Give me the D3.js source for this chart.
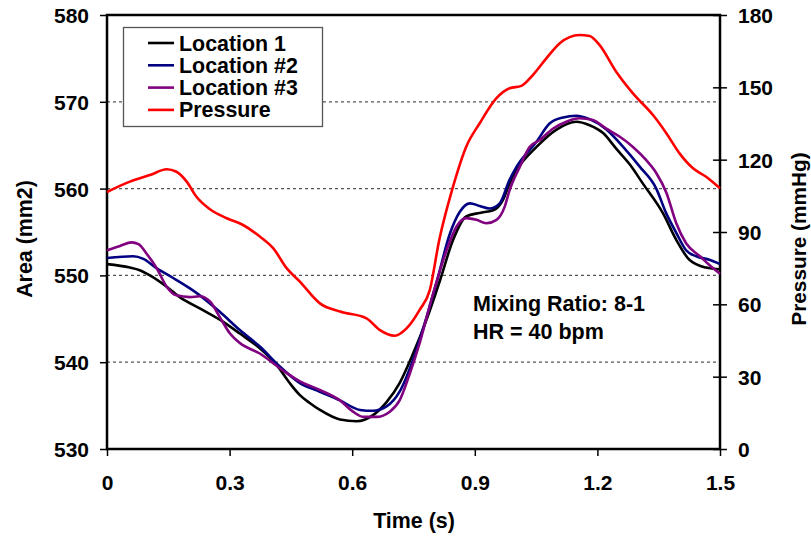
<!DOCTYPE html>
<html>
<head>
<meta charset="utf-8">
<script src="https://cdn.jsdelivr.net/npm/d3@7"></script>
<style>
  body { margin: 0; background: #fff; }
  svg text { font-family: "Liberation Sans", Arial, sans-serif; font-weight: bold; fill: #000; }
</style>
</head>
<body>
<svg id="chart" width="811" height="539"></svg>
<script>
// series: [time (s), value]
const loc1Time = [0, 0.056, 0.08, 0.105, 0.146, 0.178, 0.227, 0.276, 0.325, 0.374, 0.415, 0.447, 0.472, 0.496, 0.521, 0.57, 0.611, 0.651, 0.684, 0.716, 0.749, 0.782, 0.814, 0.847, 0.879, 0.912, 0.945, 0.969, 0.985, 1.002, 1.051, 1.1, 1.148, 1.181, 1.214, 1.246, 1.279, 1.311, 1.36, 1.393, 1.425, 1.466, 1.5]
const loc1Area = [551.3, 550.9, 550.6, 550.0, 548.7, 547.5, 546.2, 544.9, 543.3, 541.6, 539.7, 537.6, 536.2, 535.3, 534.5, 533.4, 533.2, 533.9, 535.4, 537.6, 541.0, 544.9, 549.3, 554.1, 556.8, 557.2, 557.5, 558.7, 560.6, 562.1, 564.8, 566.8, 567.7, 567.3, 566.4, 564.6, 562.8, 560.6, 557.2, 554.1, 551.8, 550.9, 550.7]

const loc2Time = [0, 0.064, 0.089, 0.122, 0.162, 0.203, 0.227, 0.276, 0.325, 0.374, 0.423, 0.472, 0.521, 0.57, 0.619, 0.651, 0.684, 0.716, 0.749, 0.782, 0.806, 0.839, 0.863, 0.888, 0.912, 0.936, 0.961, 0.985, 1.002, 1.051, 1.083, 1.116, 1.148, 1.181, 1.222, 1.263, 1.304, 1.344, 1.368, 1.393, 1.417, 1.442, 1.474, 1.5]
const loc2Area = [552.0, 552.2, 551.9, 550.8, 549.7, 548.5, 547.7, 545.8, 543.7, 541.8, 539.5, 537.6, 536.6, 535.6, 534.5, 534.4, 534.9, 536.6, 540.3, 545.2, 549.1, 554.8, 557.3, 558.3, 558.0, 557.7, 558.3, 561.0, 562.5, 565.4, 567.5, 568.2, 568.4, 568.0, 566.8, 564.8, 562.5, 560.0, 557.2, 554.9, 552.9, 552.2, 551.8, 551.3]

const loc3Time = [0, 0.032, 0.06, 0.077, 0.097, 0.122, 0.146, 0.17, 0.203, 0.227, 0.252, 0.276, 0.301, 0.325, 0.374, 0.423, 0.472, 0.521, 0.57, 0.602, 0.627, 0.659, 0.692, 0.716, 0.741, 0.765, 0.798, 0.831, 0.855, 0.879, 0.904, 0.928, 0.953, 0.973, 0.985, 1.01, 1.034, 1.059, 1.091, 1.124, 1.156, 1.189, 1.222, 1.254, 1.287, 1.319, 1.344, 1.369, 1.393, 1.417, 1.451, 1.474, 1.5]
const loc3Area = [552.9, 553.4, 553.8, 553.6, 552.5, 550.8, 548.7, 547.7, 547.5, 547.6, 547.0, 545.2, 543.3, 542.2, 541.0, 539.3, 537.8, 536.8, 535.6, 534.3, 533.7, 533.7, 534.3, 535.6, 538.7, 542.2, 547.9, 552.9, 555.6, 556.6, 556.4, 556.0, 556.4, 557.9, 559.8, 562.5, 564.8, 565.6, 566.9, 567.7, 568.1, 567.9, 566.9, 566.0, 564.8, 563.3, 561.8, 559.5, 556.0, 553.7, 552.2, 551.2, 550.2]

const pressTime = [0, 0.056, 0.105, 0.146, 0.17, 0.195, 0.219, 0.252, 0.293, 0.333, 0.374, 0.407, 0.44, 0.472, 0.521, 0.57, 0.635, 0.667, 0.704, 0.733, 0.765, 0.79, 0.813, 0.845, 0.879, 0.912, 0.953, 0.985, 1.014, 1.042, 1.075, 1.108, 1.156, 1.181, 1.205, 1.246, 1.287, 1.336, 1.369, 1.401, 1.434, 1.466, 1.5]
const pressValue = [106.6, 110.9, 113.6, 116.0, 115.0, 110.9, 104.6, 99.4, 95.7, 92.9, 88.1, 83.2, 74.9, 69.4, 60.4, 57.0, 54.2, 49.4, 47.0, 50.0, 57.7, 66.0, 86.7, 107.8, 125.4, 135.1, 145.5, 149.6, 150.6, 155.1, 162.0, 168.3, 171.7, 171.3, 167.6, 156.5, 147.5, 138.5, 130.9, 122.6, 116.4, 112.9, 108.1]

const xTicks = [0, 0.3, 0.6, 0.9, 1.2, 1.5]
const areaTicks = [530, 540, 550, 560, 570, 580]
const pressTicks = [0, 30, 60, 90, 120, 150, 180]
const gridLines = [540, 550, 560, 570]

const seriesNames = ["Location 1", "Location #2", "Location #3", "Pressure"]
const seriesColors = ["#000000", "#000080", "#800080", "#ff0000"]

const svg = d3.select("#chart")

const plotLeft = 107, plotRight = 720, plotTop = 15, plotBottom = 449

const x = d3.scaleLinear().domain([0, 1.5]).range([plotLeft, plotRight])
const yArea = d3.scaleLinear().domain([530, 580]).range([plotBottom, plotTop])
const yPress = d3.scaleLinear().domain([0, 180]).range([plotBottom, plotTop])

// dashed grid (area scale)
svg.append("g")
  .selectAll("line")
  .data(gridLines)
  .enter()
  .append("line")
  .attr("x1", plotLeft)
  .attr("x2", plotRight)
  .attr("y1", (d) => yArea(d))
  .attr("y2", (d) => yArea(d))
  .style("stroke", "#555")
  .style("stroke-width", 1.2)
  .style("stroke-dasharray", "3,3")

// left axis
const leftAxis = svg.append("g")
  .attr("transform", `translate(${plotLeft},0)`)
  .call(d3.axisLeft(yArea).tickValues(areaTicks).tickSize(7).tickPadding(11))
leftAxis.select(".domain").remove()
leftAxis.selectAll("line").style("stroke", "#000").style("stroke-width", 1.5)
leftAxis.selectAll("text").style("font-size", "21px").attr("dy", "0.36em")

// right axis, ticks cross the line
const rightAxis = svg.append("g")
  .attr("transform", `translate(${plotRight},0)`)
  .call(d3.axisRight(yPress).tickValues(pressTicks).tickSize(7).tickPadding(11))
rightAxis.select(".domain").remove()
rightAxis.selectAll("line").attr("x1", -7).style("stroke", "#000").style("stroke-width", 1.5)
rightAxis.selectAll("text").style("font-size", "21px").attr("dy", "0.36em")

// bottom axis
const bottomAxis = svg.append("g")
  .attr("transform", `translate(0,${plotBottom})`)
  .call(d3.axisBottom(x).tickValues(xTicks).tickFormat(d3.format("")).tickSize(7).tickPadding(19))
bottomAxis.select(".domain").remove()
bottomAxis.selectAll("line").style("stroke", "#000").style("stroke-width", 1.5)
bottomAxis.selectAll("text").style("font-size", "21px")

// plot frame
svg.append("rect")
  .attr("x", plotLeft)
  .attr("y", plotTop)
  .attr("width", plotRight - plotLeft)
  .attr("height", plotBottom - plotTop)
  .style("fill", "none")
  .style("stroke", "#000")
  .style("stroke-width", 2.5)

// lines
const areaLine = d3.line()
  .x((d) => x(d[0]))
  .y((d) => yArea(d[1]))
  .curve(d3.curveMonotoneX)
const pressLine = d3.line()
  .x((d) => x(d[0]))
  .y((d) => yPress(d[1]))
  .curve(d3.curveMonotoneX)

const series = [
  { pts: d3.zip(loc1Time, loc1Area), line: areaLine, color: seriesColors[0] },
  { pts: d3.zip(loc2Time, loc2Area), line: areaLine, color: seriesColors[1] },
  { pts: d3.zip(loc3Time, loc3Area), line: areaLine, color: seriesColors[2] },
  { pts: d3.zip(pressTime, pressValue), line: pressLine, color: seriesColors[3] }
]

svg.append("g")
  .selectAll("path")
  .data(series)
  .enter()
  .append("path")
  .attr("d", (d) => d.line(d.pts))
  .style("fill", "none")
  .style("stroke", (d) => d.color)
  .style("stroke-width", 2.6)
  .style("stroke-linejoin", "round")

// legend
const legend = svg.append("g")
legend.append("rect")
  .attr("x", 123.5)
  .attr("y", 27.5)
  .attr("width", 199)
  .attr("height", 99)
  .style("fill", "#fff")
  .style("stroke", "#555")
  .style("stroke-width", 1.3)

const rows = legend.selectAll(".row")
  .data(seriesNames)
  .enter()
  .append("g")
  .attr("class", "row")
  .attr("transform", (d, i) => `translate(0,${43 + i * 22.3})`)
rows.append("line")
  .attr("x1", 148)
  .attr("x2", 174)
  .style("stroke", (d, i) => seriesColors[i])
  .style("stroke-width", 2.6)
rows.append("text")
  .attr("x", 179)
  .attr("y", 7.5)
  .style("font-size", "21.4px")
  .text((d) => d)

// annotation
svg.append("text")
  .attr("x", 473)
  .attr("y", 311)
  .style("font-size", "21.5px")
  .text("Mixing Ratio: 8-1")
svg.append("text")
  .attr("x", 473)
  .attr("y", 339)
  .style("font-size", "21.5px")
  .text("HR = 40 bpm")

// axis titles
svg.append("text")
  .attr("transform", "translate(32,239) rotate(-90)")
  .attr("text-anchor", "middle")
  .style("font-size", "21.4px")
  .text("Area (mm2)")
svg.append("text")
  .attr("transform", "translate(806,239) rotate(-90)")
  .attr("text-anchor", "middle")
  .style("font-size", "20.8px")
  .text("Pressure (mmHg)")
svg.append("text")
  .attr("x", 414)
  .attr("y", 528)
  .attr("text-anchor", "middle")
  .style("font-size", "21.4px")
  .text("Time (s)")
</script>
</body>
</html>
